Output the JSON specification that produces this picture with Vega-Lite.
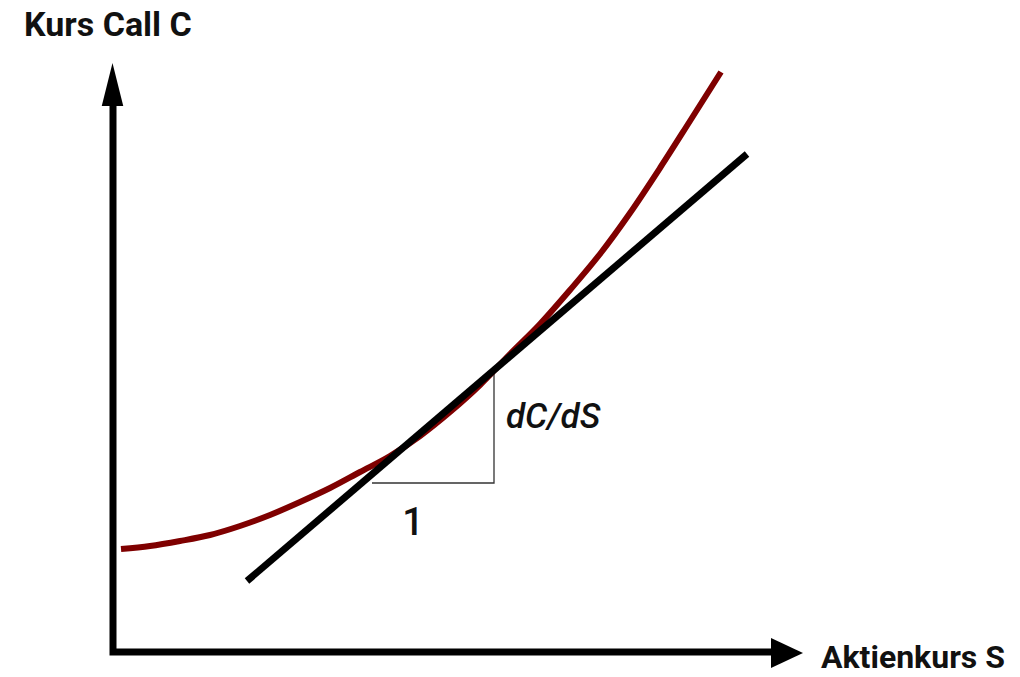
{
  "$schema": "https://vega.github.io/schema/vega-lite/v6.json",
  "width": 1020,
  "height": 677,
  "autosize": {"type": "fit", "contains": "padding"},
  "padding": 0,
  "background": "white",
  "config": {"view": {"stroke": null}, "font": "Roboto"},
  "datasets": {
    "axes": [
      {"x": 113, "y": 106, "o": 0},
      {"x": 113, "y": 652, "o": 1},
      {"x": 775, "y": 652, "o": 2}
    ],
    "call": [
      {"x": 121, "y": 549}, {"x": 150, "y": 546}, {"x": 180, "y": 541},
      {"x": 210, "y": 535}, {"x": 240, "y": 526}, {"x": 270, "y": 515},
      {"x": 300, "y": 502}, {"x": 330, "y": 488}, {"x": 360, "y": 472},
      {"x": 390, "y": 456}, {"x": 420, "y": 436}, {"x": 450, "y": 412},
      {"x": 480, "y": 385}, {"x": 510, "y": 354}, {"x": 540, "y": 324},
      {"x": 570, "y": 290}, {"x": 600, "y": 254}, {"x": 630, "y": 213},
      {"x": 660, "y": 168}, {"x": 690, "y": 121}, {"x": 721, "y": 72}
    ],
    "tangent": [{"x": 247, "y": 581}, {"x": 747, "y": 154}],
    "triangle": [
      {"x": 372, "y": 483, "o": 0},
      {"x": 494, "y": 483, "o": 1},
      {"x": 494, "y": 373, "o": 2}
    ],
    "arrows": [
      {"axis": "y", "x": 112.5, "y": 84.5},
      {"axis": "x", "x": 787, "y": 653}
    ],
    "labels": [
      {"label": "Kurs Call C", "x": 24, "y": 36},
      {"label": "Aktienkurs S", "x": 821, "y": 668},
      {"label": "dC/dS", "x": 506, "y": 428},
      {"label": "1", "x": 413, "y": 535}
    ]
  },
  "encoding": {
    "x": {"field": "x", "type": "quantitative", "scale": {"domain": [0, 1020], "nice": false, "zero": false}, "axis": null},
    "y": {"field": "y", "type": "quantitative", "scale": {"domain": [0, 677], "reverse": true, "nice": false, "zero": false}, "axis": null}
  },
  "layer": [
    {
      "data": {"name": "triangle"},
      "mark": {"type": "line", "color": "#333333", "strokeWidth": 1.3},
      "encoding": {"order": {"field": "o", "type": "quantitative"}}
    },
    {
      "data": {"name": "call"},
      "mark": {"type": "line", "color": "#7f0000", "strokeWidth": 6, "interpolate": "monotone"}
    },
    {
      "data": {"name": "tangent"},
      "mark": {"type": "line", "color": "#000000", "strokeWidth": 7}
    },
    {
      "data": {"name": "axes"},
      "mark": {"type": "line", "color": "#000000", "strokeWidth": 7, "strokeJoin": "miter"},
      "encoding": {"order": {"field": "o", "type": "quantitative"}}
    },
    {
      "data": {"name": "arrows"},
      "transform": [{"filter": "datum.axis === 'y'"}],
      "mark": {"type": "point", "filled": true, "color": "#000000", "opacity": 1, "strokeWidth": 0, "shape": "M0,-1L0.5,1L-0.5,1Z", "size": 1849}
    },
    {
      "data": {"name": "arrows"},
      "transform": [{"filter": "datum.axis === 'x'"}],
      "mark": {"type": "point", "filled": true, "color": "#000000", "opacity": 1, "strokeWidth": 0, "shape": "M1,0L-1,-0.94L-1,0.94Z", "size": 1024}
    },
    {
      "data": {"name": "labels"},
      "transform": [{"filter": "datum.label === 'Kurs Call C'"}],
      "mark": {"type": "text", "align": "left", "baseline": "alphabetic", "fontSize": 34, "fontWeight": "bold", "color": "#111111"},
      "encoding": {"text": {"field": "label"}}
    },
    {
      "data": {"name": "labels"},
      "transform": [{"filter": "datum.label === 'Aktienkurs S'"}],
      "mark": {"type": "text", "align": "left", "baseline": "alphabetic", "fontSize": 32, "fontWeight": "bold", "color": "#111111"},
      "encoding": {"text": {"field": "label"}}
    },
    {
      "data": {"name": "labels"},
      "transform": [{"filter": "datum.label === 'dC/dS'"}],
      "mark": {"type": "text", "align": "left", "baseline": "alphabetic", "fontSize": 35, "fontStyle": "italic", "fontWeight": 500, "color": "#111111"},
      "encoding": {"text": {"field": "label"}}
    },
    {
      "data": {"name": "labels"},
      "transform": [{"filter": "datum.label === '1'"}],
      "mark": {"type": "text", "align": "center", "baseline": "alphabetic", "fontSize": 38, "fontWeight": 500, "color": "#111111"},
      "encoding": {"text": {"field": "label"}}
    }
  ]
}
